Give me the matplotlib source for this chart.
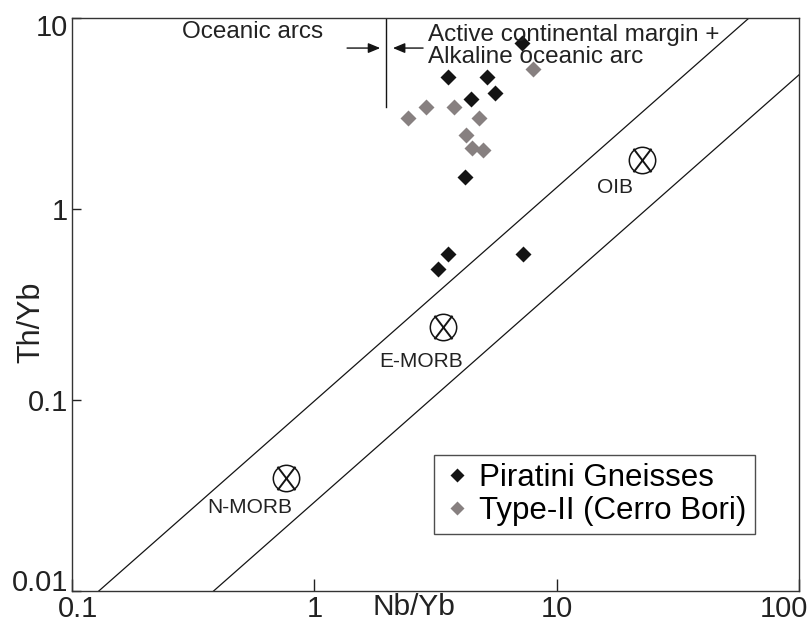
import matplotlib
matplotlib.use("Agg")
import matplotlib.pyplot as plt
from matplotlib.path import Path
from matplotlib.transforms import ScaledTranslation

plt.rcParams["font.family"] = ["Liberation Sans", "DejaVu Sans"]

# ── Data ───────────────────────────────────────────────────────────────────
# Piratini Gneisses
pir_nb = [7.2, 3.56, 5.16, 5.57, 4.44, 4.19, 3.56, 3.24, 7.26]
pir_th = [7.4, 4.91, 4.91, 4.05, 3.77, 1.47, 0.58, 0.485, 0.58]
# Type-II (Cerro Bori)
cb_nb = [8.0, 2.44, 2.89, 3.77, 4.79, 4.23, 4.48, 4.97]
cb_th = [5.41, 2.99, 3.42, 3.42, 2.99, 2.44, 2.08, 2.04]

# reference compositions and their labels
ref_names = ["N-MORB", "E-MORB", "OIB"]
ref_nb = [0.763, 3.40, 22.5]
ref_th = [0.039, 0.241, 1.81]
ref_lab_nb = [0.543, 2.75, 17.4]
ref_lab_th = [0.0272, 0.160, 1.30]

# MORB-OIB array boundaries
upper_nb = [0.129, 62.2]
upper_th = [0.01, 10]
lower_nb = [0.384, 100]
lower_th = [0.01, 5.04]

# arc divider
div_nb = [1.98, 1.98]
div_th = [10, 3.42]

x_ticks = [0.1, 1, 10, 100]
x_labels = ["0.1", "1", "10", "100"]
y_ticks = [0.01, 0.1, 1, 10]
y_labels = ["0.01", "0.1", "1", "10"]

BLACK = "#141414"
GREY = "#878080"

fig = plt.figure(figsize=(8.11, 6.24), dpi=100)
ax = fig.add_axes([72 / 811, 1 - 591 / 624, 727 / 811, 573 / 624])
ax.set_xscale("log")
ax.set_yscale("log")
ax.set_xlim(0.1, 100)
ax.set_ylim(0.01, 10)

ax.plot(upper_nb, upper_th, color=BLACK, lw=0.9)
ax.plot(lower_nb, lower_th, color=BLACK, lw=0.9)
ax.plot(div_nb, div_th, color=BLACK, lw=1.0)

arrow = dict(arrowstyle="-|>,head_length=0.6,head_width=0.25", color=BLACK,
             lw=1.0, shrinkA=0, shrinkB=0, mutation_scale=12)
ax.annotate("", xy=(1.87, 6.96), xytext=(1.365, 6.96), arrowprops=arrow)
ax.annotate("", xy=(2.11, 6.96), xytext=(2.81, 6.96), arrowprops=arrow)

ax.text(0.558, 8.45, "Oceanic arcs", fontsize=17.5, ha="center", va="center",
        color="#222")
ax.text(2.94, 7.1, "Active continental margin +\nAlkaline oceanic arc",
        fontsize=17.5, ha="left", va="center", linespacing=1.0, color="#222")

ax.plot(cb_nb, cb_th, "D", ms=8, color=GREY, mec="none",
        label="Type-II (Cerro Bori)")
ax.plot(pir_nb, pir_th, "D", ms=8, color=BLACK, mec="none",
        label="Piratini Gneisses")

xpath = Path([(-0.38, -0.5), (0.38, 0.5), (-0.38, 0.5), (0.38, -0.5)],
             [Path.MOVETO, Path.LINETO, Path.MOVETO, Path.LINETO])
ax.plot(ref_nb, ref_th, ls="none", marker="o", ms=19, mfc="none",
        mec=BLACK, mew=1.1)
ax.plot(ref_nb, ref_th, ls="none", marker=xpath, ms=17, fillstyle="none",
        mec=BLACK, mew=1.4)
for name, nx, ny in zip(ref_names, ref_lab_nb, ref_lab_th):
    ax.text(nx, ny, name, fontsize=15, ha="center", va="center", color="#222")

handles, labels = ax.get_legend_handles_labels()
leg = ax.legend(handles[::-1], labels[::-1], loc="upper left",
                bbox_to_anchor=(434 / 811, 1 - 455 / 624),
                bbox_transform=fig.transFigure, borderaxespad=0,
                fontsize=22.5, frameon=True, fancybox=False, borderpad=0.25,
                labelspacing=0.1, handlelength=1.0, handletextpad=0.2,
                markerscale=0.9)
leg.get_frame().set_edgecolor("#222")
leg.get_frame().set_linewidth(1.0)

ax.set_xticks(x_ticks)
ax.set_xticklabels(x_labels)
ax.set_yticks(y_ticks)
ax.set_yticklabels(y_labels)
ax.minorticks_off()
ax.tick_params(axis="x", direction="in", length=9, width=1.0, pad=3,
               labelsize=21, colors="#222")
ax.tick_params(axis="y", direction="in", length=6.5, width=1.0, pad=3,
               labelsize=21, colors="#222")
for sp in ax.spines.values():
    sp.set_linewidth(1.0)
    sp.set_color("#333")

# nudge end labels inward like the original
xl = ax.get_xticklabels()
xl[0].set_transform(xl[0].get_transform() + ScaledTranslation(6 / 100, 0, fig.dpi_scale_trans))
xl[-1].set_transform(xl[-1].get_transform() + ScaledTranslation(-15 / 100, 0, fig.dpi_scale_trans))
yl = ax.get_yticklabels()
yl[0].set_transform(yl[0].get_transform() + ScaledTranslation(0, 11 / 100, fig.dpi_scale_trans))
yl[-1].set_transform(yl[-1].get_transform() + ScaledTranslation(0, -7 / 100, fig.dpi_scale_trans))

ax.set_xlabel("Nb/Yb", fontsize=21.5, color="#222")
ax.xaxis.set_label_coords((414 - 72) / 727, -0.004)
ax.set_ylabel("Th/Yb", fontsize=22, color="#222")
ax.yaxis.set_label_coords(-(72 - 46) / 727, 0.469)

fig.savefig("out.png", dpi=100)
